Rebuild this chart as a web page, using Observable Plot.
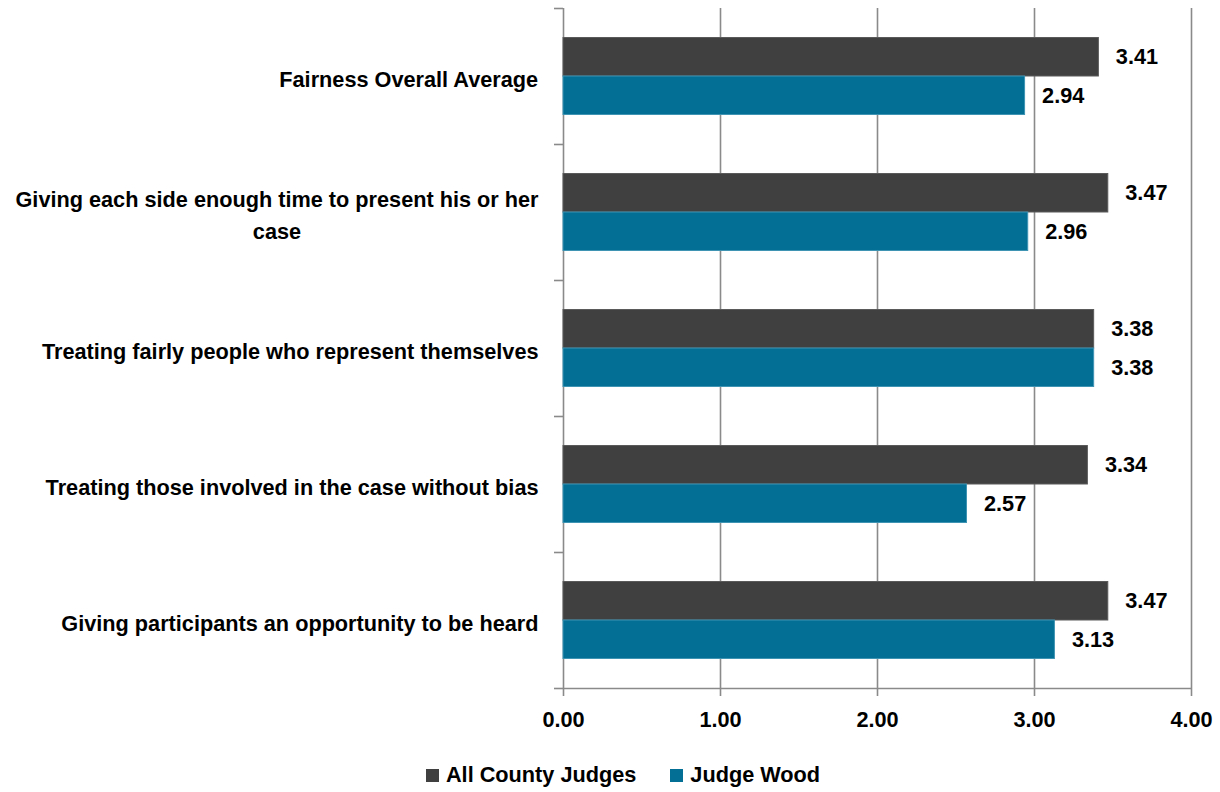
<!DOCTYPE html>
<html><head><meta charset="utf-8">
<script src="https://cdn.jsdelivr.net/npm/d3@7"></script>
<script src="https://cdn.jsdelivr.net/npm/@observablehq/plot@0.6"></script>
<style>
body{margin:0;background:#fff;font-family:"Liberation Sans",Arial,sans-serif;}
#legend{display:flex;justify-content:center;align-items:center;gap:34px;padding-left:26px;margin-top:17px;font-weight:bold;font-size:21.7px;color:#000;}
#legend .item{display:flex;align-items:center;gap:7px;}
#legend .sw{width:13px;height:13px;display:inline-block;}
</style></head><body><div id="chart"></div><div id="legend"></div>
<script>
const categories = [
  "Fairness Overall Average",
  "Giving each side enough time to present his or her\ncase",
  "Treating fairly people who represent themselves",
  "Treating those involved in the case without bias",
  "Giving participants an opportunity to be heard"
];
const series = ["All County Judges", "Judge Wood"];
const allCountyJudges = [3.41, 3.47, 3.38, 3.34, 3.47];
const judgeWood = [2.94, 2.96, 3.38, 2.57, 3.13];
const xTicks = [0, 1, 2, 3, 4];
const colors = ["#404040", "#046f94"];

const FONT = '"Liberation Sans",Arial,sans-serif';
const FS = 21.7;
const barFrac = 0.283; // fraction of a category band per bar

const rows = categories.flatMap((c, i) => [
  {cat: c, i, s: 0, series: series[0], value: allCountyJudges[i]},
  {cat: c, i, s: 1, series: series[1], value: judgeWood[i]}
]);

// measure label widths so wrapped lines are centered under one another
const ctx = document.createElement("canvas").getContext("2d");
ctx.font = `bold ${FS}px ${FONT}`;
const labelMarks = categories.map((c, i) => {
  const w = d3.max(c.split("\n"), l => ctx.measureText(l).width);
  return Plot.text([c], {
    x: () => 0, y: () => i + 0.5, text: d => d,
    textAnchor: "middle", dx: -25 - w / 2, lineHeight: 1.475,
    fontSize: FS, fontWeight: "bold", fill: "#000"
  });
});

const chart = Plot.plot({
  width: 1220, height: 745,
  marginLeft: 563, marginRight: 29, marginTop: 8, marginBottom: 57,
  style: {fontFamily: FONT, background: "#fff"},
  x: {domain: [0, 4]},
  y: {domain: [0, categories.length], reverse: true},
  color: {domain: series, range: colors},
  marks: [
    Plot.ruleX(xTicks, {stroke: "#8a8a8a", strokeWidth: 1.6}),
    Plot.ruleY([categories.length], {x1: 0, x2: 4, stroke: "#8a8a8a", strokeWidth: 1.6}),
    Plot.axisY({ticks: d3.range(0, categories.length + 1), tickSize: 9, tickFormat: () => "", stroke: "#8a8a8a", strokeWidth: 1.6, strokeOpacity: 1, label: null}),
    Plot.axisX({ticks: xTicks, tickFormat: d => d.toFixed(2), tickSize: 8, tickPadding: 15, stroke: "#8a8a8a", strokeWidth: 1.6, strokeOpacity: 1, fontSize: FS, fontWeight: "bold", fill: "#000", label: null}),
    Plot.rect(rows, {
      x1: 0, x2: "value",
      y1: d => d.i + (d.s === 0 ? 0.5 - barFrac : 0.5),
      y2: d => d.i + (d.s === 0 ? 0.5 : 0.5 + barFrac),
      fill: "series",
      stroke: d => d.s === 0 ? "#5a5a5a" : "#3e93b3", strokeWidth: 1
    }),
    Plot.text(rows, {
      x: "value",
      y: d => d.i + (d.s === 0 ? 0.5 - barFrac / 2 : 0.5 + barFrac / 2),
      text: d => d.value.toFixed(2),
      textAnchor: "start", dx: 17, fontSize: FS, fontWeight: "bold", fill: "#000"
    }),
    ...labelMarks
  ]
});
document.getElementById("chart").appendChild(chart);

const legend = document.getElementById("legend");
series.forEach((s, k) => {
  const it = document.createElement("div");
  it.className = "item";
  it.innerHTML = `<span class="sw" style="background:${colors[k]}"></span><span>${s}</span>`;
  legend.appendChild(it);
});
</script>
</body></html>
